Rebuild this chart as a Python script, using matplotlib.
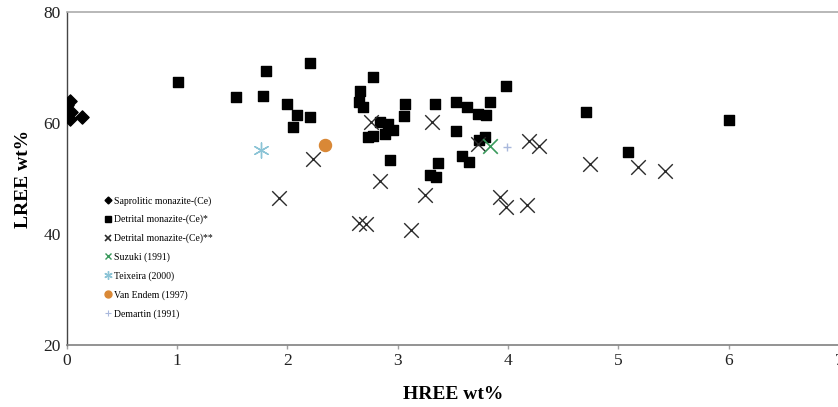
import matplotlib
matplotlib.use("Agg")
import matplotlib.pyplot as plt
from matplotlib.lines import Line2D

plt.rcParams['font.family'] = ['Liberation Serif', 'DejaVu Serif']

# HREE / LREE (wt%) per group
sap_hree = [0.00, 0.03, 0.04, 0.03, 0.14]
sap_lree = [63.3, 64.0, 62.0, 60.8, 61.1]

det1_hree = [1.01, 1.54, 1.78, 1.81, 2.21, 2.00, 2.09, 2.05, 2.21, 2.66, 2.65, 2.69,
             2.78, 3.07, 3.06, 2.84, 2.91, 2.96, 2.89, 2.73, 2.78, 2.93, 3.34, 3.53,
             3.63, 3.73, 3.80, 3.84, 3.98, 3.53, 3.79, 3.74, 3.58, 3.65, 3.37, 3.29,
             3.35, 4.71, 5.09, 6.00]
det1_lree = [67.3, 64.6, 64.9, 69.4, 70.8, 63.5, 61.4, 59.2, 61.1, 65.8, 63.7, 62.9,
             68.3, 63.4, 61.3, 60.2, 59.9, 58.7, 58.1, 57.4, 57.6, 53.3, 63.5, 63.7,
             62.8, 61.7, 61.4, 63.7, 66.7, 58.6, 57.5, 56.9, 54.1, 52.9, 52.8, 50.6,
             50.3, 61.9, 54.8, 60.5]

det2_hree = [2.76, 2.23, 2.84, 1.93, 3.31, 3.73, 4.19, 4.28, 4.74, 5.18, 5.42, 3.25,
             3.93, 3.98, 4.17, 2.65, 2.71, 3.12]
det2_lree = [60.1, 53.5, 49.5, 46.5, 60.1, 56.2, 56.8, 55.9, 52.6, 52.0, 51.4, 47.0,
             46.6, 44.8, 45.2, 42.0, 41.8, 40.7]

suzuki_hree, suzuki_lree = [3.84], [55.9]
teixeira_hree, teixeira_lree = [1.76], [55.1]
vanendem_hree, vanendem_lree = [2.34], [56.0]
demartin_hree, demartin_lree = [3.99], [55.6]

labels = ['Saprolitic monazite-(Ce)', 'Detrital monazite-(Ce)*', 'Detrital monazite-(Ce)**',
          'Suzuki (1991)', 'Teixeira (2000)', 'Van Endem (1997)', 'Demartin (1991)']

green = '#3a9a5c'
lightblue = '#8cc4d6'
orange = '#d98836'
plusblue = '#a9b8dc'

fig = plt.figure(figsize=(8.38, 4.07), dpi=100)
ax = fig.add_axes([66.5 / 838, 62 / 407, (839 - 66.5) / 838, 333 / 407])

ax.scatter(sap_hree, sap_lree, marker='D', s=45, color='black', zorder=3)
ax.scatter(det1_hree, det1_lree, marker='s', s=60, color='black', zorder=3)
ax.scatter(det2_hree, det2_lree, marker='x', s=110, color='#2a2a2a', linewidths=1.0, zorder=3)
ax.scatter(suzuki_hree, suzuki_lree, marker='x', s=110, color=green, linewidths=1.2, zorder=4)
ax.scatter(teixeira_hree, teixeira_lree, marker=(6, 2, 0), s=120, color=lightblue, linewidths=1.0, zorder=4)
ax.scatter(vanendem_hree, vanendem_lree, marker='o', s=75, color=orange, zorder=4)
ax.scatter(demartin_hree, demartin_lree, marker='+', s=40, color=plusblue, linewidths=1.0, zorder=4)

ax.set_xlim(0, 7)
ax.set_ylim(20, 80)
ax.set_xticks(range(0, 8))
ax.set_yticks([20, 40, 60, 80])

# frame: dark left axis, grey bottom, light grey top
ax.spines['left'].set_color('#454545')
ax.spines['left'].set_linewidth(1.0)
ax.spines['bottom'].set_color('#808080')
ax.spines['bottom'].set_linewidth(1.2)
ax.spines['top'].set_color('#acacac')
ax.spines['top'].set_linewidth(1.2)
ax.spines['right'].set_visible(False)
ax.tick_params(axis='x', direction='out', length=3, width=1, color='#a0a0a0',
               labelsize=12.5, labelcolor='#222222', pad=3)
ax.tick_params(axis='y', length=0, labelsize=12.5, labelcolor='#222222', pad=4)

ax.set_xlabel('HREE wt%', fontsize=14, fontweight='bold', labelpad=12)
ax.set_ylabel('LREE wt%', fontsize=14, fontweight='bold', labelpad=8)

# small legend handles
handles = [
    Line2D([], [], ls='none', marker='D', ms=3.5, color='black'),
    Line2D([], [], ls='none', marker='s', ms=4.5, color='black'),
    Line2D([], [], ls='none', marker='x', ms=5, mew=1.2, color='#2a2a2a'),
    Line2D([], [], ls='none', marker='x', ms=5, mew=1.0, color=green),
    Line2D([], [], ls='none', marker=(6, 2, 0), ms=6, mew=1.0, color=lightblue),
    Line2D([], [], ls='none', marker='o', ms=5, color=orange),
    Line2D([], [], ls='none', marker='+', ms=5, mew=0.8, color=plusblue),
]
ax.legend(handles, labels, loc='upper left', bbox_to_anchor=(104 / 838, 1 - 196 / 407),
          bbox_transform=fig.transFigure, frameon=False, fontsize=7, labelspacing=0.95,
          handlelength=0.8, handletextpad=0.25, borderpad=0, borderaxespad=0)

fig.savefig('out.png', dpi=100)
